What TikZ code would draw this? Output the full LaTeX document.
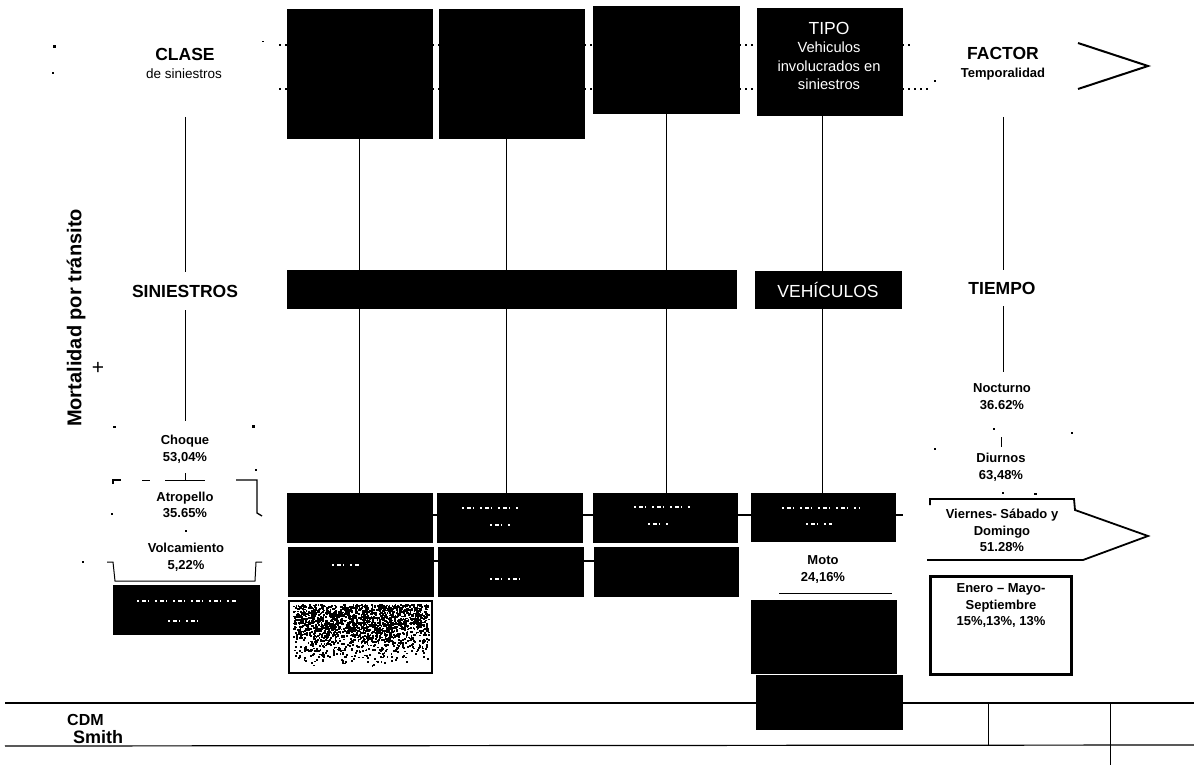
\documentclass[tikz,border=0pt]{standalone}
\usepackage{fontspec}
\setmainfont{Liberation Sans}
\begin{document}
\begin{tikzpicture}[x=1pt,y=-1pt,
  blk/.style={fill=black,draw=black,line width=0.6pt},
  wlbl/.style={text=white,align=center,inner sep=0pt},
  lbl/.style={align=center,inner sep=0pt,font=\bfseries\fontsize{13}{16.5}\selectfont},
  head/.style={align=center,font=\bfseries\fontsize{17.5}{20}\selectfont},
  sub/.style={align=center,inner sep=0pt,font=\fontsize{13.5}{15}\selectfont},
  conn/.style={line width=1pt},
  band/.style={line width=1.1pt,dash pattern=on 2pt off 4pt},
  wspeck/.style={line width=1.6pt,white,dash pattern=on 2pt off 3pt on 4pt off 2pt on 1pt off 6pt},
  rul/.style={line width=1.2pt}]
\useasboundingbox (0,0) rectangle (1194,765);
\fill[white] (0,0) rectangle (1194,765);
% top boxes
\path[blk] (287,9) rectangle (432,138);
\path[blk] (439,9) rectangle (584,138);
\path[blk] (593,6) rectangle (739,113);
\coordinate (t1) at (359,138); \coordinate (t2) at (506,138);
\coordinate (t3) at (666,113); \coordinate (t4) at (822,115);
\coordinate (b1) at (359,493); \coordinate (b2) at (506,493);
\coordinate (b3) at (666,493); \coordinate (b4) at (822,493);
\coordinate (cl) at (185,117); \coordinate (cr) at (185,421);
\coordinate (fl) at (1003,117); \coordinate (fr) at (1003,372);
\draw[conn] (t1) -- (b1); \draw[conn] (t2) -- (b2); \draw[conn] (t3) -- (b3); \draw[conn] (t4) -- (b4);
\draw[conn] (cl) -- (cr); \draw[conn] (fl) -- (fr);
\node[blk,minimum width=145pt,minimum height=107pt,inner sep=0pt,anchor=north west] (tipo) at (757,8) {};
\node[wlbl,font=\fontsize{17.5}{20}\selectfont] (tipot) at (829,28) {TIPO};
\node[wlbl,font=\fontsize{14.7}{18.5}\selectfont] (tipos) at (829,66) {Vehiculos\\involucrados en\\siniestros};
% band dashes
\draw[band] (279,45) -- (287,45); \draw[band] (432,45) -- (439,45); \draw[band] (584,45) -- (593,45); \draw[band] (739,45) -- (757,45); \draw[band] (902,45) -- (912,45);
\draw[band] (279,89) -- (287,89); \draw[band] (432,89) -- (439,89); \draw[band] (584,89) -- (593,89); \draw[band] (739,89) -- (757,89); \draw[band] (902,89) -- (928,89);
% middle bar
\path[blk] (287,270) rectangle (736,308);
\node[blk,minimum width=146pt,minimum height=37pt,inner sep=0pt,text=white,font=\fontsize{17.5}{20}\selectfont] (veh) at (828,289.5) {VEHÍCULOS};
% row 1 and 2
\path[blk] (287,493) rectangle (432,542);
\path[blk] (437,493) rectangle (582,542);
\path[blk] (593,493) rectangle (737,542);
\path[blk] (751,493) rectangle (895,541);
\path[blk] (288,547) rectangle (433,596);
\path[blk] (438,547) rectangle (583,596);
\path[blk] (594,547) rectangle (738,596);
\draw[line width=1.2pt] (432,515) -- (437,515) (582,515) -- (593,515) (737,515) -- (751,515) (895,515) -- (903,515);
\draw[line width=1.2pt] (433,561) -- (438,561) (583,561) -- (594,561);
\draw[wspeck] (782,508) -- (860,508) (806,524) -- (832,524);
\draw[wspeck] (462,508) -- (520,508) (490,525) -- (512,525);
\draw[wspeck] (634,507) -- (690,507) (648,524) -- (668,524);
\draw[wspeck] (332,565) -- (360,565);
\draw[wspeck] (490,579) -- (520,579);
% moto
\node[lbl] (moto) at (823,569.5) {Moto\\24,16\%};
\draw[line width=0.9pt] (779,593) -- (892,593);
\path[blk] (751,600) rectangle (896,673);
% noisy box
\path[draw=black,line width=2.4pt,fill=white] (289,601) rectangle (432,673);
\pgfmathsetseed{7}
\foreach \i in {1,...,1900} {
  \pgfmathsetmacro{\px}{293+rnd*135}
  \pgfmathsetmacro{\py}{604+rnd*62*(0.35+0.65*rnd)}
  \fill (\px,\py) rectangle ++(1.8,1.8);
}
\path[blk] (113,585) rectangle (259,634);
\draw[wspeck] (137,601) -- (236,601) (168,621) -- (200,621);
% left column
\node[head,inner sep=0pt] (clase) at (185,54) {CLASE};
\node[sub] (desin) at (184,74) {de siniestros};
\node[fill=white,inner sep=0pt,minimum height=38pt,head] (sin) at (185,291) {SINIESTROS};
\node[lbl] (cho) at (185,449.5) {Choque\\53,04\%};
\node[lbl] (atr) at (185,505) {Atropello\\35.65\%};
\node[lbl] (vol) at (186,557.5) {Volcamiento\\5,22\%};
\draw[conn] (185,473) -- (185,480);
\draw[line width=1.6pt] (113,484) -- (113,480) -- (121,480);
\draw[line width=1pt] (142,480) -- (150,480) (165,480) -- (205,480);
\draw[line width=1.3pt] (236,480) -- (257,480) -- (257,513) -- (262,516);
\draw[line width=1pt] (107,562) -- (113,562) -- (115,581) -- (255,581) -- (256,562) -- (262,562);
% right column
\node[head,inner sep=0pt] (fac) at (1003,53) {FACTOR};
\node[sub,font=\bfseries\fontsize{13}{15}\selectfont] (tem) at (1003,74) {Temporalidad};
\draw[line width=2pt] (1078,43) -- (1148,66) -- (1078,89);
\node[fill=white,inner sep=0pt,minimum height=36pt,head] (tie) at (1002,288) {TIEMPO};
\node[lbl] (noc) at (1002,396.5) {Nocturno\\36.62\%};
\node[lbl] (diu) at (1001,467.5) {Diurnos\\63,48\%};
\draw[conn] (1001,437) -- (1001,447);
\draw[line width=1.8pt] (930,505) -- (930,499) -- (1074,499) -- (1075,510) -- (1148,536) -- (1083,560) -- (927,560);
\node[lbl] (vie) at (1002,530.5) {Viernes- Sábado y\\Domingo\\51.28\%};
\node[draw=black,line width=2.2pt,minimum width=141pt,minimum height=98pt,inner sep=0pt] (ene) at (1001,625.5) {};
\node[lbl] (enet) at (1001,606) {Enero – Mayo-\\Septiembre\\15\%,13\%, 13\%};
% side label
\node[rotate=90,inner sep=0pt,font=\bfseries\fontsize{20}{22}\selectfont] (mort) at (76,318) {Mortalidad por tránsito};
\node[inner sep=0pt,font=\fontsize{21}{21}\selectfont] (plus) at (98,368) {+};
% stray marks
\foreach \x/\y/\w/\h in {53/45/3/3, 52/72/2/2, 113/426/3/1.5, 252/425/3/3, 255/469/2/2, 185/530/2/2, 111/513/2/2, 82/561/2/2, 934/448/2/2, 1071/432/1.5/1.5, 1002/492/1.5/1.5, 1034/493/3/1.5, 993/428/1.5/1.5, 262/41/1.5/1.5, 934/80/2/2}
  \fill (\x,\y) rectangle ++(\w,\h);
% footer
\coordinate (la) at (5,703); \coordinate (lb) at (1194,703);
\coordinate (lc) at (5,746); \coordinate (ld) at (1194,745);
\draw[rul] (la) -- (lb); \draw[rul] (lc) -- (ld);
\draw[line width=0.9pt] (988,703) -- (988,745);
\draw[line width=0.9pt] (1110,703) -- (1110,765);
\path[blk] (756,675) rectangle (902,729);
\node[inner sep=0pt,anchor=base west,font=\bfseries\fontsize{16}{16}\selectfont] (cdm) at (67,725) {CDM};
\node[inner sep=0pt,anchor=base west,font=\bfseries\fontsize{18}{18}\selectfont] (smith) at (73,743) {Smith};
\end{tikzpicture}
\end{document}
